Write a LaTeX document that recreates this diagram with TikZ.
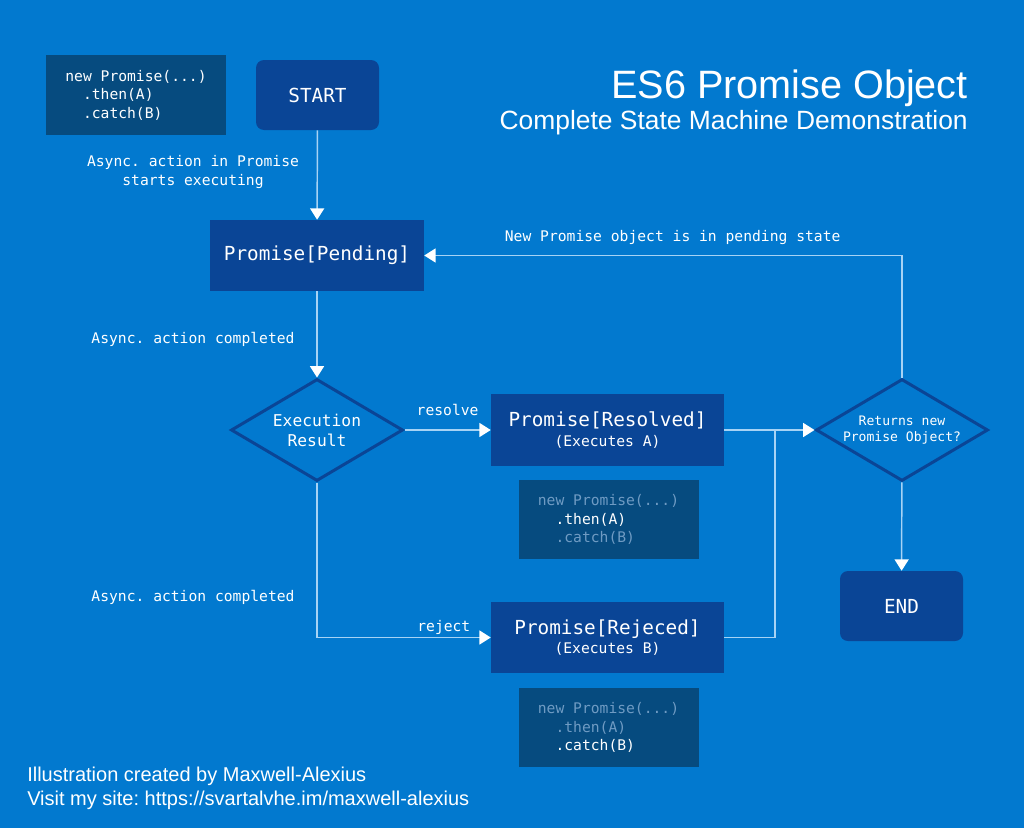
\documentclass[tikz,border=0pt]{standalone}
\usepackage{fontspec}
\setmainfont{Liberation Sans}
\setmonofont{DejaVu Sans Mono}
\usepackage{tikz}
\usetikzlibrary{shapes.geometric,arrows.meta}
\frenchspacing

\definecolor{bgblue}{HTML}{0279CF}
\definecolor{boxblue}{HTML}{0A4596}
\definecolor{codebg}{HTML}{064B7F}
\definecolor{wire}{HTML}{A7D3F5}
\definecolor{dimcode}{HTML}{6F9BC3}

\tikzset{
  state/.style={fill=boxblue,text=white,minimum width=174.75pt,minimum height=54pt,inner sep=0pt,align=center},
  terminal/.style={fill=boxblue,text=white,rounded corners=6pt,minimum width=92.25pt,minimum height=52.5pt,
    font=\ttfamily\fontsize{14.5}{17}\selectfont},
  decision/.style={diamond,draw=boxblue,line width=2.25pt,minimum width=129pt,minimum height=76.5pt,inner sep=0pt},
  codebox/.style={fill=codebg,minimum width=135pt,minimum height=59.5pt,align=left,
    font=\ttfamily\fontsize{11}{13.9}\selectfont},
  note/.style={text=white,align=center,font=\ttfamily\fontsize{11}{14.3}\selectfont},
  flow/.style={draw=wire,line width=1.1pt,-{Triangle[length=8.5pt,width=10.5pt,color=white]}},
  wireline/.style={draw=wire,line width=1.1pt}
}
\newcommand{\monosp}{\phantom{n}}

\begin{document}
\begin{tikzpicture}[x=0.75pt,y=-0.75pt]
\fill[bgblue](0,0)rectangle(1024,828);

% title
\node[anchor=base east,text=white,font=\fontsize{29.7}{32}\selectfont,inner sep=0pt] (title) at (968,98) {ES6 Promise Object};
\node[anchor=base east,text=white,font=\fontsize{19.8}{22}\selectfont,inner sep=0pt] (subtitle) at (968,129) {Complete State Machine Demonstration};

% code boxes
\node[codebox,text=white] (code1) at (136,95) {new\monosp Promise(...)\\\phantom{ne}.then(A)\\\phantom{ne}.catch(B)};
\node[codebox,text=dimcode] (code2) at (608.5,519.5) {new\monosp Promise(...)\\\phantom{ne}\textcolor{white}{.then(A)}\\\phantom{ne}.catch(B)};
\node[codebox,text=dimcode] (code3) at (608.5,727.5) {new\monosp Promise(...)\\\phantom{ne}.then(A)\\\phantom{ne}\textcolor{white}{.catch(B)}};

% states
\node[terminal] (start) at (317.5,95) {START};
\node[state,minimum width=160.5pt,minimum height=53.25pt,font=\ttfamily\fontsize{14.5}{17}\selectfont] (pending) at (317,255.5) {Promise[Pending]};
\node[decision,label={[note,font=\ttfamily\fontsize{12.2}{15}\selectfont]center:Execution\\Result}] (result) at (317,430) {};
\node[state] (resolved) at (607.5,430) {{\ttfamily\fontsize{14.5}{17}\selectfont Promise[Resolved]}\\[2.5pt]{\ttfamily\fontsize{11}{14}\selectfont(Executes A)}};
\node[state,minimum height=53.25pt] (rejected) at (607.5,637.5) {{\ttfamily\fontsize{14.5}{17}\selectfont Promise[Rejeced]}\\[2.5pt]{\ttfamily\fontsize{11}{14}\selectfont(Executes B)}};
\node[decision,label={[note,font=\ttfamily\fontsize{9.8}{12.5}\selectfont]center:Returns new\\Promise Object?}] (returns) at (902,430) {};
\node[terminal] (finish) at (901.5,606) {END};

% notes
\node[note] (n1) at (193,172) {Async. action in Promise\\starts executing};
\node[note] (n2) at (193,339) {Async. action completed};
\node[note] (n3) at (193,597) {Async. action completed};

% connectors
\coordinate (join) at (775,430);
\draw[flow](start)--(pending);
\draw[flow](pending)--(result);
\draw[flow](result)--node[note,above=7pt]{resolve}(resolved);
\draw[flow](result)|-node[note,above=-2pt,pos=0.865]{reject}(rejected);
\draw[flow](resolved)--(returns);
\draw[wireline](rejected.east)-|(join);
\draw[flow](returns)--(finish);
\draw[flow](returns.north)|-node[note,above=4pt,pos=0.74]{New Promise object is in pending state}(pending.east);

% footer
\node[anchor=base west,text=white,font=\fontsize{15}{18}\selectfont,inner sep=0pt] (credit) at (27,781) {Illustration created by Maxwell-Alexius};
\node[anchor=base west,text=white,font=\fontsize{15}{18}\selectfont,inner sep=0pt] (site) at (27,805) {Visit my site: https://svartalvhe.im/maxwell-alexius};
\end{tikzpicture}
\end{document}
